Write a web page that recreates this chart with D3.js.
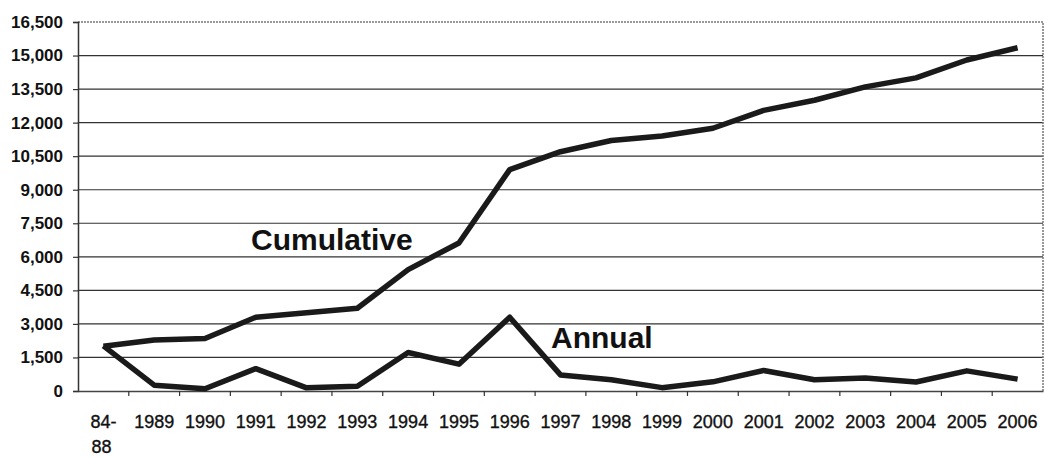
<!DOCTYPE html>
<html>
<head>
<meta charset="utf-8">
<script src="https://cdn.jsdelivr.net/npm/d3@7"></script>
<style>
  html, body { margin: 0; padding: 0; background: #fff; }
  svg { display: block; }
  text { font-family: "Liberation Sans", Arial, sans-serif; fill: #111; }
</style>
</head>
<body>
<svg id="chart" width="1045" height="457"></svg>
<script>
const categories = ["84-88","1989","1990","1991","1992","1993","1994","1995","1996","1997","1998","1999","2000","2001","2002","2003","2004","2005","2006"];
const cumulative = [2000, 2280, 2350, 3300, 3500, 3700, 5430, 6620, 9900, 10700, 11200, 11400, 11750, 12550, 13000, 13600, 14000, 14800, 15350];
const annual = [2020, 260, 100, 1000, 140, 210, 1720, 1200, 3300, 720, 500, 150, 410, 920, 500, 580, 400, 900, 530];
const yTicks = [0, 1500, 3000, 4500, 6000, 7500, 9000, 10500, 12000, 13500, 15000, 16500];

const svg = d3.select("#chart");
const mLeft = 78, mRight = 1043, mTop = 22, mBottom = 391;

const x = d3.scaleBand().domain(categories).range([mLeft, mRight]).paddingInner(0).paddingOuter(0);
const y = d3.scaleLinear().domain([0, 16500]).range([mBottom, mTop]);
const cx = d => x(d) + x.bandwidth() / 2;

// gridlines
svg.append("g")
  .selectAll("line")
  .data(yTicks.filter(v => v > 0 && v < 16500))
  .join("line")
  .attr("x1", mLeft).attr("x2", mRight)
  .attr("y1", d => y(d)).attr("y2", d => y(d))
  .attr("stroke", "#333").attr("stroke-width", 1.2);

// plot border (top & right, grey dotted)
svg.append("path")
  .attr("d", `M${mLeft},${mTop}H${mRight}V${mBottom}`)
  .attr("fill", "none").attr("stroke", "#777").attr("stroke-width", 1.5)
  .attr("stroke-dasharray", "2,1");

// y axis
const yAxis = svg.append("g")
  .attr("transform", `translate(${mLeft},0)`)
  .call(d3.axisLeft(y).tickValues(yTicks).tickSize(5).tickPadding(10).tickFormat(d3.format(",")));
yAxis.select(".domain").attr("stroke", "#333").attr("stroke-width", 1.5);
yAxis.selectAll(".tick line").attr("stroke", "#333").attr("stroke-width", 1.2);
yAxis.selectAll(".tick text")
  .attr("font-size", 17).attr("font-family", "Liberation Sans, Arial, sans-serif")
  .attr("fill", "#111").style("font-weight", "bold");

// x axis
const xAxis = svg.append("g")
  .attr("transform", `translate(0,${mBottom})`)
  .call(d3.axisBottom(x).tickSize(0).tickFormat(() => ""));
xAxis.select(".domain").attr("stroke", "#444").attr("stroke-width", 1.5);
// tick marks at category boundaries
svg.append("g")
  .selectAll("line")
  .data(categories.slice(1))
  .join("line")
  .attr("x1", d => x(d)).attr("x2", d => x(d))
  .attr("y1", mBottom).attr("y2", mBottom + 5)
  .attr("stroke", "#333").attr("stroke-width", 1.2);

// x labels
const xl = svg.append("g").selectAll("text")
  .data(categories)
  .join("text")
  .attr("x", d => cx(d))
  .attr("y", 428)
  .attr("text-anchor", "middle")
  .attr("font-size", 18)
  .attr("stroke", "#111").attr("stroke-width", 0.35);
xl.each(function(d) {
  const t = d3.select(this);
  if (d.includes("-")) {
    const parts = d.split("-");
    t.append("tspan").attr("x", cx(d)).text(parts[0] + "-");
    t.append("tspan").attr("x", cx(d) - 2).attr("dy", 25).text(parts[1]);
  } else {
    t.text(d);
  }
});

// lines
const line = d3.line().x((d, i) => cx(categories[i])).y(d => y(d));
svg.append("path").datum(cumulative)
  .attr("d", line).attr("fill", "none")
  .attr("stroke", "#1a1a1a").attr("stroke-width", 5.5).attr("stroke-linejoin", "round");
svg.append("path").datum(annual)
  .attr("d", line).attr("fill", "none")
  .attr("stroke", "#1a1a1a").attr("stroke-width", 5.5).attr("stroke-linejoin", "round");

// series labels
svg.append("text").attr("x", 251).attr("y", 250)
  .attr("font-size", 30).attr("font-weight", "bold").text("Cumulative");
svg.append("text").attr("x", 551).attr("y", 348)
  .attr("font-size", 30).attr("font-weight", "bold").text("Annual");
</script>
</body>
</html>
